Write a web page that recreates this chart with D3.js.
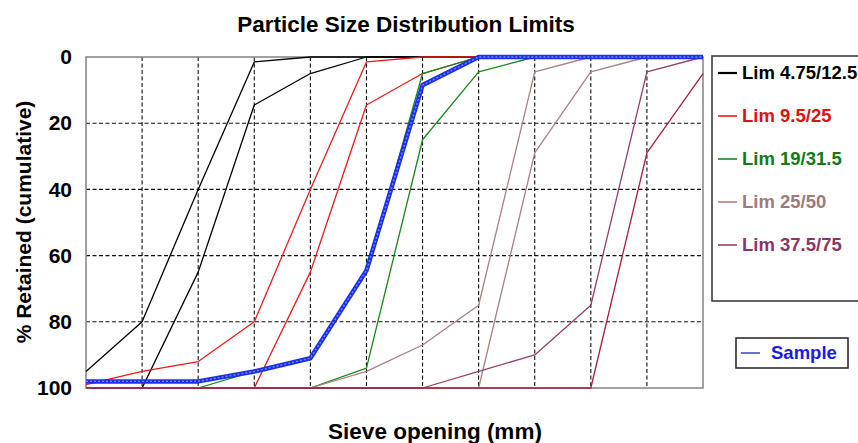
<!DOCTYPE html>
<html>
<head>
<meta charset="utf-8">
<script src="https://cdn.jsdelivr.net/npm/d3@7/dist/d3.min.js"></script>
<style>
  html, body { margin: 0; padding: 0; background: #fff; }
  svg { display: block; font-family: "Liberation Sans", Arial, sans-serif; }
</style>
</head>
<body>
<svg id="chart" width="858" height="443"></svg>
<script>
// ---- data ----
const sieves = ["2.36", "4.75", "6.3", "9.5", "12.5", "19", "25", "31.5", "37.5", "50", "63", "75"];
const yTicks = [0, 20, 40, 60, 80, 100];

const lim475A = [95, 80, 40, 1.5, 0, 0, 0, 0, 0, 0, 0, 0];
const lim475B = [100, 100, 65, 14.5, 5, 0, 0, 0, 0, 0, 0, 0];
const lim95A  = [99, 95, 92, 80, 40, 1.5, 0, 0, 0, 0, 0, 0];
const lim95B  = [100, 100, 100, 100, 65, 14.5, 5, 0, 0, 0, 0, 0];
const lim19A  = [100, 100, 100, 95, 91, 65, 5, 0, 0, 0, 0, 0];
const lim19B  = [100, 100, 100, 100, 100, 94, 25, 4.5, 0, 0, 0, 0];
const lim25A  = [100, 100, 100, 100, 100, 95, 87, 75, 4.5, 0, 0, 0];
const lim25B  = [100, 100, 100, 100, 100, 100, 100, 100, 29, 4.5, 0, 0];
const lim375A = [100, 100, 100, 100, 100, 100, 100, 95, 90, 75, 4.5, 0];
const lim375B = [100, 100, 100, 100, 100, 100, 100, 100, 100, 100, 29, 5];
const sample  = [98, 98, 98, 95, 91, 64.5, 8.5, 0, 0, 0, 0, 0];

const legendNames = ["Lim 4.75/12.5", "Lim 9.5/25", "Lim 19/31.5", "Lim 25/50", "Lim 37.5/75"];

// ---- build ----
const series = [
  { vals: lim475A, color: "#000000" },
  { vals: lim475B, color: "#000000" },
  { vals: lim95A,  color: "#ea1c1c" },
  { vals: lim95B,  color: "#ea1c1c" },
  { vals: lim19A,  color: "#168a16" },
  { vals: lim19B,  color: "#168a16" },
  { vals: lim25A,  color: "#a88282" },
  { vals: lim25B,  color: "#a88282" },
  { vals: lim375A, color: "#94406f" },
  { vals: lim375B, color: "#a6203c" }
];
const legendColors = ["#000000", "#e21010", "#127a12", "#a07a7a", "#8c3466"];
const legendLineColors = ["#000000", "#ea1c1c", "#168a16", "#a88282", "#94406f"];

const svg = d3.select("#chart");
const L = 86, R = 703, T = 57, B = 388;
const x = d3.scalePoint().domain(sieves).range([L, R]).padding(0);
const y = d3.scaleLinear().domain([0, 100]).range([T, B]);

// plot background
svg.append("rect").attr("x", L).attr("y", T).attr("width", R - L).attr("height", B - T)
  .attr("fill", "#fff");

// grid
const grid = svg.append("g");
grid.selectAll("line.h").data(yTicks.filter(d => d > 0 && d < 100)).join("line")
  .attr("x1", L).attr("x2", R).attr("y1", d => y(d)).attr("y2", d => y(d))
  .attr("stroke", "#111").attr("stroke-width", 1.1).attr("stroke-dasharray", "4,2.5");
grid.selectAll("line.v").data(sieves.slice(1, -1)).join("line")
  .attr("x1", d => x(d)).attr("x2", d => x(d)).attr("y1", T).attr("y2", B)
  .attr("stroke", "#111").attr("stroke-width", 1.1).attr("stroke-dasharray", "4,2.5");

// frame
svg.append("rect").attr("x", L).attr("y", T).attr("width", R - L).attr("height", B - T)
  .attr("fill", "none").attr("stroke", "#8a8a8a").attr("stroke-width", 1.6);

// lines
const line = d3.line().x((d, i) => x(sieves[i])).y(d => y(d));
svg.append("g").selectAll("path").data(series).join("path")
  .attr("d", d => line(d.vals))
  .attr("fill", "none").attr("stroke", d => d.color).attr("stroke-width", 1.3)
  .attr("stroke-linejoin", "round");

// sample
svg.append("path").attr("d", line(sample)).attr("fill", "none")
  .attr("stroke", "#1c2ee8").attr("stroke-width", 4.5).attr("stroke-linejoin", "round");
svg.append("path").attr("d", line(sample)).attr("fill", "none")
  .attr("stroke", "#6f8cff").attr("stroke-width", 1.4).attr("stroke-dasharray", "2,2");

// y axis labels
const yAxis = d3.axisLeft(y).tickValues(yTicks).tickSize(0).tickPadding(14);
const ga = svg.append("g").attr("transform", `translate(${L},0)`).call(yAxis);
ga.select(".domain").remove();
ga.selectAll("text").attr("font-size", 21).attr("font-weight", "bold")
  .attr("fill", "#000").attr("font-family", "'Liberation Sans', Arial, sans-serif");

// titles
svg.append("text").attr("x", 406).attr("y", 32).attr("text-anchor", "middle")
  .attr("font-size", 22.5).attr("font-weight", "bold").text("Particle Size Distribution Limits");
svg.append("text").attr("x", 435).attr("y", 439).attr("text-anchor", "middle")
  .attr("font-size", 22.5).attr("font-weight", "bold").text("Sieve opening (mm)");
svg.append("text").attr("transform", "translate(31,222) rotate(-90)").attr("text-anchor", "middle")
  .attr("font-size", 21).attr("font-weight", "bold").text("% Retained (cumulative)");

// legend
svg.append("rect").attr("x", 712).attr("y", 56).attr("width", 152).attr("height", 245)
  .attr("fill", "#fff").attr("stroke", "#333").attr("stroke-width", 1.5);
const lg = svg.append("g").selectAll("g").data(legendNames).join("g")
  .attr("transform", (d, i) => `translate(0,${73 + i * 43})`);
lg.append("line").attr("x1", 718).attr("x2", 737).attr("y1", 0).attr("y2", 0)
  .attr("stroke", (d, i) => legendLineColors[i]).attr("stroke-width", (d, i) => i === 0 ? 2.2 : 1.6);
lg.append("text").attr("x", 742).attr("y", 0).attr("dy", "0.35em")
  .attr("font-size", 18.5).attr("font-weight", "bold")
  .attr("fill", (d, i) => legendColors[i]).text(d => d);

svg.append("rect").attr("x", 736).attr("y", 338).attr("width", 112).attr("height", 30)
  .attr("fill", "#fff").attr("stroke", "#222").attr("stroke-width", 1.5);
svg.append("line").attr("x1", 741).attr("x2", 760).attr("y1", 353).attr("y2", 353)
  .attr("stroke", "#3a3ad8").attr("stroke-width", 1.5);
svg.append("text").attr("x", 771).attr("y", 353).attr("dy", "0.35em")
  .attr("font-size", 18.5).attr("font-weight", "bold").attr("fill", "#1a1ae6").text("Sample");
</script>
</body>
</html>
